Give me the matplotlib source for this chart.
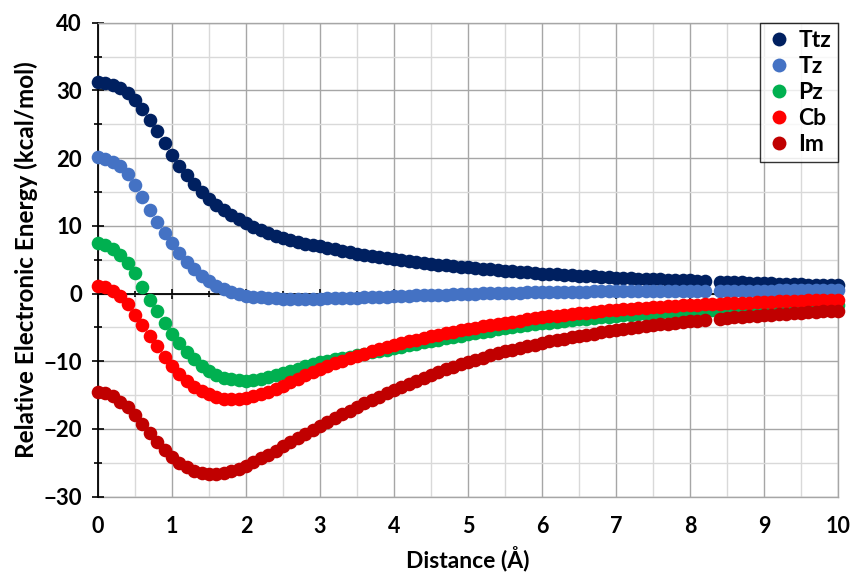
import numpy as np
import matplotlib
matplotlib.use("Agg")
import matplotlib.pyplot as plt
from matplotlib.ticker import MultipleLocator
from matplotlib.lines import Line2D

plt.rcParams['font.family'] = ['Lato', 'DejaVu Sans']
plt.rcParams['font.weight'] = 'bold'

# Distance grid (Å), 0.1 Å steps
distance = np.round(np.arange(0, 101) * 0.1, 1)
nan = np.nan

x_ticks = [0, 1, 2, 3, 4, 5, 6, 7, 8, 9, 10]
y_ticks = [-30, -20, -10, 0, 10, 20, 30, 40]

ttz = [31.3, 31.1, 30.8, 30.3, 29.6, 28.6, 27.2, 25.7, 24.0, 22.2,
       20.5, 18.9, 17.5, 16.2, 15.0, 14.0, 13.1, 12.3, 11.6, 11.0,
       10.4, 9.85, 9.35, 8.9, 8.5, 8.15, 7.85, 7.55, 7.3, 7.15,
       7.0, 6.76, 6.53, 6.31, 6.1, 5.9, 5.71, 5.53, 5.36, 5.2,
       5.05, 4.91, 4.77, 4.64, 4.51, 4.39, 4.27, 4.16, 4.05, 3.95,
       3.85, 3.75, 3.66, 3.57, 3.48, 3.35, 3.27, 3.19, 3.11, 3.03,
       2.96, 2.89, 2.82, 2.76, 2.7, 2.64, 2.58, 2.52, 2.47, 2.42,
       2.37, 2.32, 2.27, 2.22, 2.18, 2.14, 2.1, 2.06, 2.02, 1.98,
       1.94, 1.9, 1.86, nan, 1.76, 1.72, 1.68, 1.64, 1.61, 1.57,
       1.54, 1.5, 1.47, 1.43, 1.4, 1.37, 1.33, 1.3, 1.27, 1.24, 1.21]

tz = [20.1, 19.9, 19.5, 18.8, 17.6, 16.0, 14.2, 12.3, 10.5, 8.9,
      7.4, 6.0, 4.7, 3.6, 2.6, 1.8, 1.1, 0.6, 0.2, -0.1,
      -0.3, -0.45, -0.56, -0.64, -0.7, -0.74, -0.76, -0.77, -0.77, -0.76,
      -0.74, -0.72, -0.69, -0.66, -0.63, -0.6, -0.56, -0.52, -0.48, -0.44,
      -0.4, -0.36, -0.32, -0.28, -0.24, -0.2, -0.17, -0.14, -0.11, -0.08,
      -0.05, -0.02, 0.01, 0.04, 0.07, 0.1, 0.12, 0.14, 0.16, 0.18,
      0.2, 0.22, 0.24, 0.26, 0.27, 0.29, 0.3, 0.31, 0.33, 0.34,
      0.35, 0.36, 0.37, 0.38, 0.38, 0.39, 0.4, 0.4, 0.41, 0.41,
      0.42, 0.42, 0.43, nan, 0.43, 0.44, 0.44, 0.44, 0.45, 0.45,
      0.45, 0.45, 0.46, 0.46, 0.46, 0.46, 0.46, 0.47, 0.47, 0.47, 0.47]

pz = [7.4, 7.2, 6.6, 5.7, 4.5, 3.0, 1.0, -0.9, -2.6, -4.3,
      -5.9, -7.3, -8.6, -9.7, -10.7, -11.4, -12.0, -12.4, -12.65, -12.8,
      -12.85, -12.75, -12.55, -12.3, -12.0, -11.7, -11.4, -11.08, -10.76, -10.43,
      -10.1, -9.9, -9.7, -9.5, -9.3, -9.1, -8.9, -8.7, -8.5, -8.3,
      -8.1, -7.88, -7.66, -7.44, -7.22, -7.0, -6.8, -6.6, -6.4, -6.2,
      -6.0, -5.82, -5.64, -5.46, -5.28, -5.1, -4.96, -4.82, -4.68, -4.54,
      -4.4, -4.28, -4.16, -4.04, -3.92, -3.8, -3.7, -3.6, -3.5, -3.4,
      -3.3, -3.22, -3.14, -3.06, -2.98, -2.9, -2.84, -2.78, -2.72, -2.66,
      -2.6, -2.54, -2.48, -2.42, -2.36, -2.3, -2.26, -2.22, -2.18, -2.14,
      -2.1, -2.06, -2.02, -1.98, -1.94, -1.9, -1.87, -1.84, -1.81, -1.78, -1.75]

cb = [1.1, 0.9, 0.45, -0.4, -1.6, -3.1, -4.6, -6.2, -7.8, -9.3,
      -10.7, -11.9, -12.9, -13.75, -14.4, -14.9, -15.25, -15.5, -15.6, -15.55,
      -15.4, -15.15, -14.85, -14.5, -14.05, -13.6, -13.1, -12.6, -12.1, -11.6,
      -11.1, -10.7, -10.3, -9.92, -9.55, -9.2, -8.87, -8.55, -8.23, -7.91,
      -7.6, -7.33, -7.06, -6.8, -6.55, -6.3, -6.07, -5.85, -5.63, -5.41,
      -5.2, -5.02, -4.84, -4.66, -4.48, -4.3, -4.14, -3.98, -3.82, -3.66,
      -3.5, -3.38, -3.26, -3.14, -3.02, -2.9, -2.8, -2.7, -2.6, -2.5,
      -2.4, -2.32, -2.24, -2.16, -2.08, -2.0, -1.94, -1.88, -1.82, -1.76,
      -1.7, -1.65, -1.6, -1.55, -1.5, -1.45, -1.41, -1.37, -1.33, -1.29,
      -1.25, -1.21, -1.17, -1.13, -1.09, -1.05, -1.02, -0.99, -0.96, -0.93, -0.9]

im = [-14.5, -14.7, -15.2, -16.0, -16.8, -17.9, -19.2, -20.6, -21.9, -23.1,
      -24.1, -25.0, -25.65, -26.15, -26.5, -26.65, -26.6, -26.45, -26.2, -25.85,
      -25.4, -24.9, -24.35, -23.8, -23.2, -22.5, -21.9, -21.3, -20.7, -20.1,
      -19.5, -18.93, -18.37, -17.82, -17.28, -16.75, -16.23, -15.72, -15.22, -14.73,
      -14.25, -13.78, -13.32, -12.87, -12.43, -12.0, -11.6, -11.21, -10.83, -10.46,
      -10.1, -9.77, -9.45, -9.14, -8.84, -8.55, -8.28, -8.02, -7.77, -7.53,
      -7.3, -7.08, -6.87, -6.66, -6.46, -6.27, -6.09, -5.91, -5.74, -5.57,
      -5.41, -5.26, -5.11, -4.97, -4.83, -4.7, -4.57, -4.45, -4.33, -4.21,
      -4.1, -3.99, -3.89, nan, -3.69, -3.6, -3.51, -3.42, -3.34, -3.26,
      -3.18, -3.1, -3.03, -2.96, -2.89, -2.82, -2.76, -2.7, -2.64, -2.58, -2.52]

labels = ['Ttz', 'Tz', 'Pz', 'Cb', 'Im']
colors = ['#002060', '#4472C4', '#00B050', '#FF0000', '#C00000']
series = [ttz, tz, pz, cb, im]
draw_order = [0, 1, 2, 4, 3]

fig = plt.figure(figsize=(8.55, 5.75), dpi=100)
ax = fig.add_axes([0.1146, 0.1362, 0.8655, 0.8243])

ax.set_xlim(0, 10)
ax.set_ylim(-30, 40)

# Gridlines
ax.set_xticks(x_ticks)
ax.xaxis.set_minor_locator(MultipleLocator(0.5))
ax.set_yticks(y_ticks)
ax.yaxis.set_minor_locator(MultipleLocator(5))
ax.grid(which='major', color='#A6A6A6', linewidth=1.0, zorder=0)
ax.grid(which='minor', color='#D9D9D9', linewidth=1.0, zorder=0)
ax.set_axisbelow(True)

# Axis line through y = 0, ticks without labels
ax.spines['bottom'].set_position(('data', 0))
ax.spines['bottom'].set_color('black')
ax.spines['bottom'].set_linewidth(1.3)
ax.spines['left'].set_color('black')
ax.spines['left'].set_linewidth(1.3)
for side in ('top', 'right'):
    ax.spines[side].set_color('#A6A6A6')
    ax.spines[side].set_linewidth(1.0)
ax.tick_params(axis='x', which='both', direction='inout', length=7, width=1.2,
               labelbottom=False)
ax.tick_params(axis='x', which='minor', length=5)
ax.tick_params(axis='y', which='major', direction='inout', length=9, width=1.2,
               labelsize=16, pad=7)
ax.tick_params(axis='y', which='minor', direction='inout', length=6, width=1.2)
for t in ax.get_yticklabels():
    t.set_fontweight('bold')

# Tick labels along the bottom edge
sec = ax.secondary_xaxis('bottom')
sec.set_xticks(x_ticks)
sec.tick_params(axis='x', which='both', length=0, labelsize=15.5, pad=14)
sec.spines['bottom'].set_color('#A6A6A6')
sec.spines['bottom'].set_linewidth(1.0)
for t in sec.get_xticklabels():
    t.set_fontweight('bold')
sec.set_xlabel('Distance (Å)', fontsize=16.5, fontweight='bold', labelpad=6)

ax.set_ylabel('Relative Electronic Energy (kcal/mol)', fontsize=17.5,
              fontweight='bold', labelpad=4)

for i in draw_order:
    ax.plot(distance, series[i], linestyle='none', marker='o', markersize=9.8,
            markeredgewidth=0, color=colors[i], clip_on=False, zorder=3 + i)

handles = [Line2D([], [], linestyle='none', marker='o', markersize=10,
                  markeredgewidth=0, color=c) for c in colors]
leg = ax.legend(handles, labels, loc='upper right', borderaxespad=0,
                frameon=True, fancybox=False, handlelength=1.0,
                handletextpad=0.35, labelspacing=0.22, borderpad=0.3,
                prop={'weight': 'bold', 'size': 16.5})
leg.get_frame().set_edgecolor('black')
leg.get_frame().set_linewidth(1.0)
leg.set_zorder(10)

fig.savefig('out.png', dpi=100)
